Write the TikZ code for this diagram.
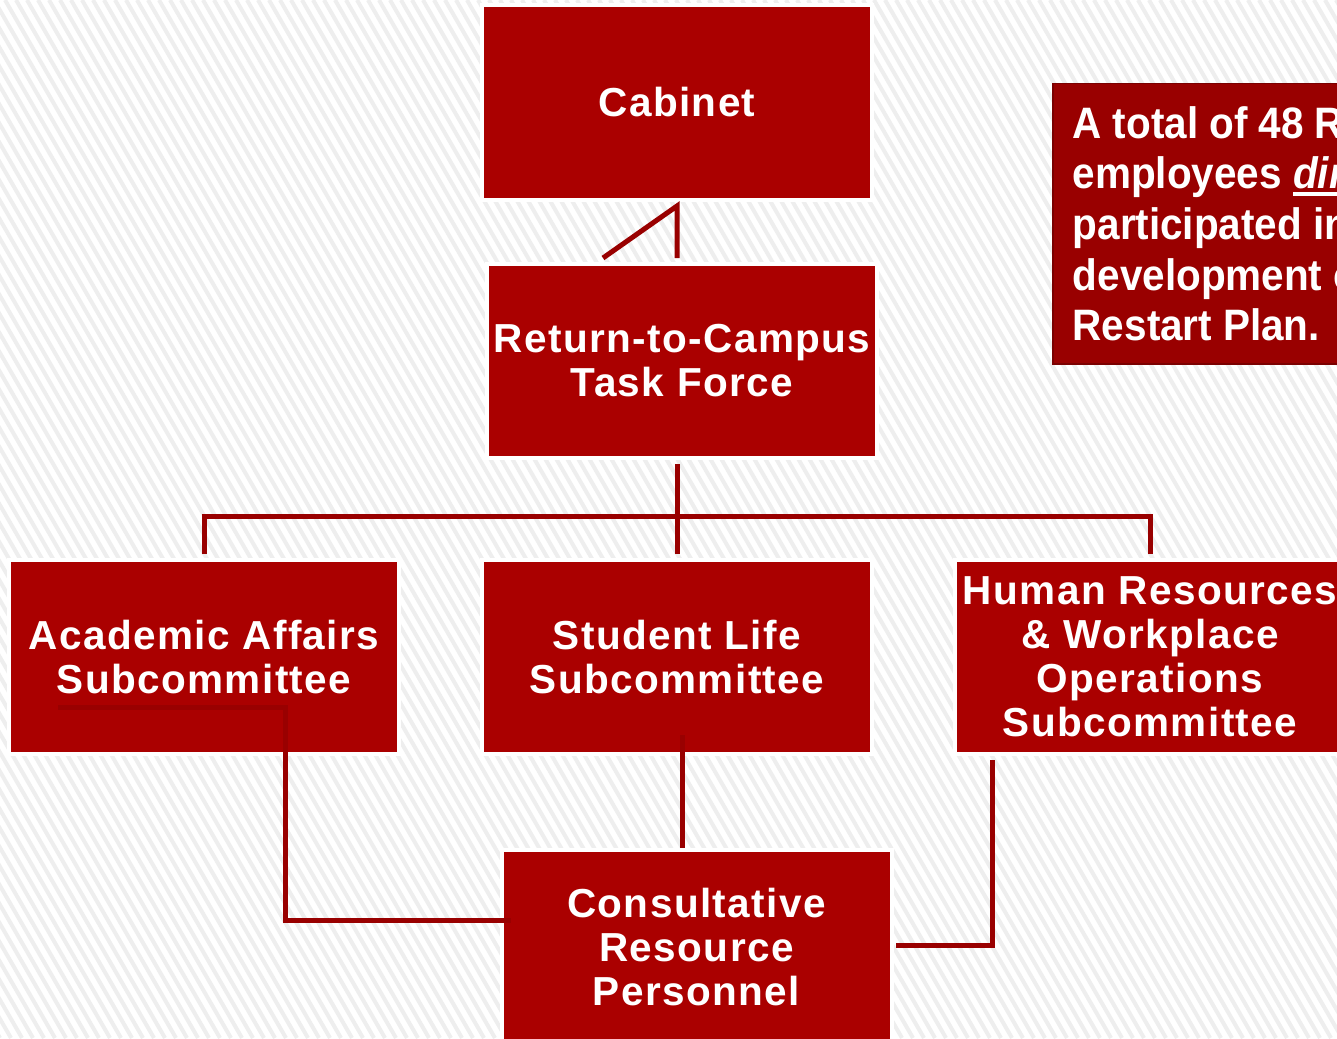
\documentclass[tikz,border=0pt]{standalone}
\usepackage{fontspec}
\setmainfont{Liberation Sans}
\newfontfamily\unitfont{Liberation Sans}[LetterSpace=3.5]
\newfontfamily\notefont{Liberation Sans}[FakeStretch=0.92]
\usetikzlibrary{calc,positioning}
\definecolor{boxred}{HTML}{AA0000}
\definecolor{notered}{HTML}{990000}
\definecolor{linkred}{HTML}{990000}
\definecolor{stripegray}{HTML}{EEEEEE}
\newcommand\ulword[1]{\setbox0\hbox{#1}\rlap{\rule[-7pt]{\wd0}{3.5pt}}\box0}
\newcommand\tightspace{\spaceskip=11pt\relax\xspaceskip=11pt\relax}
\tikzset{
  unit/.style={
    rectangle,
    fill=boxred,
    draw=white, line width=4pt,
    minimum width=390pt,
    minimum height=194pt,
    inner sep=2pt,
    text=white,
    align=center,
    font=\unitfont\bfseries\fontsize{40.5}{44}\selectfont},
  notebox/.style={
    rectangle,
    fill=notered,
    draw=notered!80!black, line width=1.5pt,
    minimum height=280pt,
    text width=300pt,
    inner xsep=20pt,
    text=white,
    align=left,
    font=\notefont\bfseries\fontsize{44}{50.7}\selectfont},
  link/.style={draw=linkred, line width=5pt},
  stripe/.style={draw=stripegray, line width=4pt},
}
\begin{document}
\begin{tikzpicture}[x=1pt, y=-1pt]
    \useasboundingbox (0,0) rectangle (1337,1038);
    \clip (0,0) rectangle (1337,1038);

    %background
    \fill[white] (0,0) rectangle (1337,1038);
    \foreach \x in {-600,-589,...,1340}
        \draw[stripe] (\x,0) -- ++(600,1038);

    %units
    \node[unit] (cab) at (677,102.5) {Cabinet};
    \node[unit] (tf) at (682,361) {Return-to-Campus\\Task Force};
    \node[unit] (acad) at (204,657) {Academic Affairs\\Subcommittee};
    \node[unit] (stu) at (677,657) {Student Life\\Subcommittee};
    \node[unit] (hr) at (1150,657)
        {Human Resources\\\& Workplace\\Operations\\Subcommittee};
    \node[unit] (cons) at (696.5,947) {Consultative\\Resource\\Personnel};

    %note
    \node[notebox, anchor=north west] (note) at (1052,83)
        {\tightspace A total of 48 R\\employees \ulword{\itshape dir}\\participated in\\development o\\Restart Plan.};

    %links
    \coordinate (cabtip) at ($(cab.south)+(0,4.5)$);
    \draw[link] ($(tf.north)+(-5,-4)$) -- (cabtip) -- ($(tf.north)+(-79,-4)$);
    \draw[link] ($(tf.south)+(-5,4)$) -- ($(stu.north)+(0,-4)$);
    \draw[link] ($(acad.north)+(0,-4)$) -- ++(0,-38) -| ($(hr.north)+(0,-4)$);
    \draw[link] ($(acad.south west)+(51,-49)$) -| ($(cons.west)+(-214.5,-27)$)
        -- ($(cons.west)+(11.5,-27)$);
    \coordinate (stubot) at ($(stu.south)+(5,-21)$);
    \draw[link] (stubot) -- (stubot |- cons.north);
    \draw[link] ($(hr.south west)+(39,4)$) |- ($(cons.east)+(2.5,-2)$);

\end{tikzpicture}
\end{document}
